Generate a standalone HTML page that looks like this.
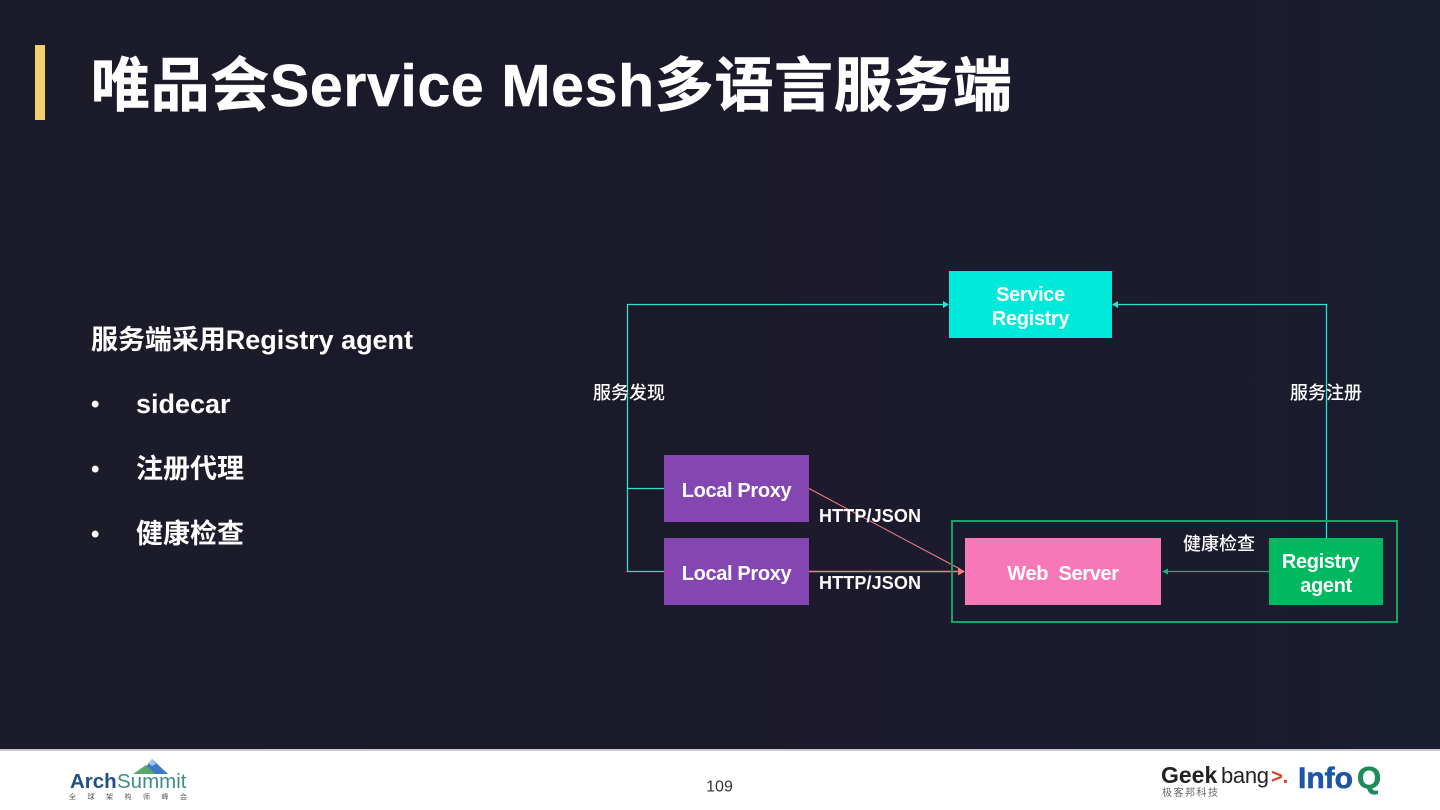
<!DOCTYPE html>
<html><head><meta charset="utf-8"><style>
html,body{margin:0;padding:0;background:#1b1a2a}
svg{display:block}
text{font-family:"Liberation Sans","Noto Sans CJK SC",sans-serif;font-weight:700;fill:#fff;white-space:pre}
</style></head><body>
<svg width="1440" height="810" viewBox="0 0 1440 810" xmlns="http://www.w3.org/2000/svg">
<defs>
<linearGradient id="bg" x1="0" x2="1" y1="0" y2="0">
<stop offset="0" stop-color="#1b1b29"/><stop offset=".5" stop-color="#1b1a2a"/><stop offset=".62" stop-color="#1c1a2d"/><stop offset="1" stop-color="#1a1c2f"/>
</linearGradient>
</defs>
<rect width="1440" height="750" fill="url(#bg)"/>
<rect y="749" width="1440" height="2" fill="#c9c9cf"/>
<rect y="751" width="1440" height="59" fill="#fff"/>
<rect x="35" y="45" width="10" height="75" fill="#f0cf6c"/>
<text x="91" y="106" font-size="59" textLength="921" lengthAdjust="spacing" stroke="#fff" stroke-width=".5">唯品会Service Mesh多语言服务端</text>

<text x="91" y="349" font-size="27" textLength="322">服务端采用Registry agent</text>
<text x="91" y="412" font-size="24">•</text><text x="136" y="413" font-size="27">sidecar</text>
<text x="91" y="477" font-size="24">•</text><text x="136" y="478" font-size="27">注册代理</text>
<text x="91" y="542" font-size="24">•</text><text x="136" y="543" font-size="27">健康检查</text>

<g fill="none" stroke="#2fe0cf" stroke-width="1.300">
<path d="M664 488.500H627.500V304.500H944"/>
<path d="M664 571.500H627.500V488"/>
<path d="M1326.500 538V304.500H1117"/>
</g>
<path d="M949 304.500l-6-3.500v7z" fill="#2fe0cf"/>
<path d="M1112 304.500l6-3.500v7z" fill="#2fe0cf"/>
<g fill="none" stroke="#f4807c">
<path d="M809 488.500L960 569" stroke-width="1"/><path d="M809 571.500H960" stroke-width="1.500"/>
</g>
<path d="M965 571.500l-7-4v8z" fill="#f4807c"/>
<path d="M1269 571.500H1168" stroke="#1fae7c" stroke-width="1.300"/>
<path d="M1162 571.500l6-3v6z" fill="#1fae7c"/>

<rect x="949" y="271" width="163" height="67" fill="#00eadb"/>
<rect x="664" y="455" width="145" height="67" fill="#8446b0"/>
<rect x="664" y="538" width="145" height="67" fill="#8446b0"/>
<rect x="965" y="538" width="196" height="67" fill="#f778b8"/>
<rect x="1269" y="538" width="114" height="67" fill="#00b85f"/>
<rect x="952" y="521" width="445" height="101" fill="none" stroke="#12a765" stroke-width="2"/>

<g font-size="20" text-anchor="middle" letter-spacing="-.35">
<text x="1030.500" y="301">Service</text><text x="1030.500" y="325">Registry</text>
<text x="736.500" y="497">Local Proxy</text><text x="736.500" y="580">Local Proxy</text>
<text x="1063" y="580" xml:space="preserve">Web  Server</text>
<text x="1320.500" y="568">Registry</text><text x="1326" y="592">agent</text>
</g>
<g font-size="18">
<text x="819" y="522" textLength="102">HTTP/JSON</text><text x="819" y="589" textLength="102">HTTP/JSON</text>
</g>
<g font-size="18">
<text x="593" y="399" style="font-weight:500">服务发现</text>
<text x="1290" y="399" style="font-weight:500">服务注册</text>
<text x="1183" y="550" style="font-weight:500">健康检查</text>
</g>

<text x="719.500" y="791.500" font-size="16" text-anchor="middle" style="font-weight:400;fill:#333">109</text>

<!-- ArchSummit logo -->
<path d="M140 774L152 759L168 774Z" fill="#3f78c8"/><path d="M133 774L146 765L155 774Z" fill="#5aa86a"/><path d="M148 763L152 759L156 764L152 766Z" fill="#9fc7e6"/>
<text x="70" y="788" font-size="20.500" style="fill:#1f4f86">Arch</text>
<text x="117" y="788" font-size="20.500" style="font-weight:400;fill:#3d8d84">Summit</text>
<text x="69" y="799" font-size="7" style="font-weight:400;fill:#555" textLength="118">全 球 架 构 师 峰 会</text>
<!-- Geekbang logo -->
<text x="1161" y="783" font-size="23" style="fill:#222">Geek</text>
<text x="1221" y="783" font-size="22" style="font-weight:400;fill:#222" textLength="48">bang</text>
<text x="1271" y="783" font-size="20" style="fill:#e0402e">&gt;.</text>
<text x="1162" y="796" font-size="10" style="font-weight:400;fill:#666" textLength="56">极客邦科技</text>
<text x="1298" y="788" font-size="30" style="fill:#1f55a8" stroke="#1f55a8" stroke-width=".6">Info</text>
<text x="1357" y="788" font-size="31" style="fill:#1f8a5a" stroke="#1f8a5a" stroke-width=".6">Q</text>
</svg>
</body></html>
